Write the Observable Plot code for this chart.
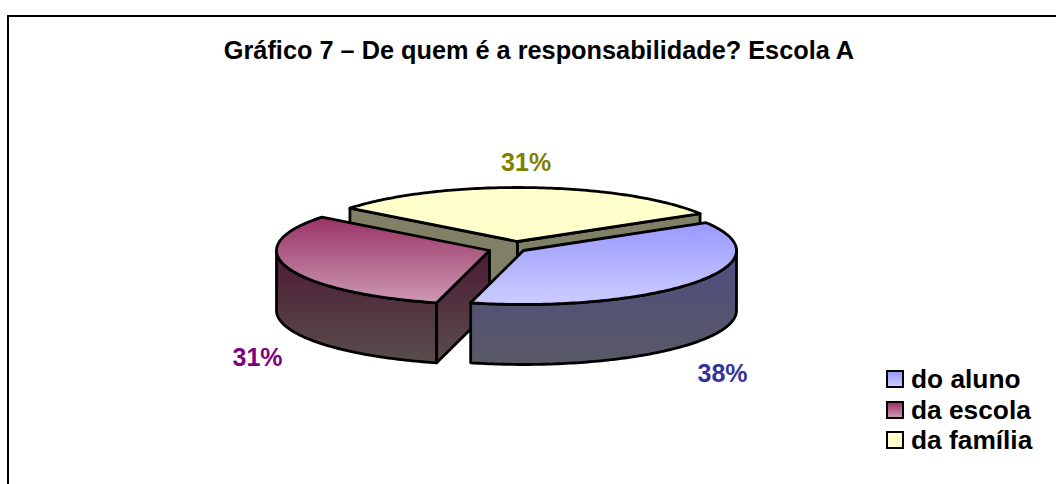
<!DOCTYPE html>
<html lang="pt">
<head>
<meta charset="utf-8">
<script src="https://cdn.jsdelivr.net/npm/d3@7"></script>
<script src="https://cdn.jsdelivr.net/npm/@observablehq/plot@0.6"></script>
<style>
  html, body { margin: 0; padding: 0; background: #fff; width: 1056px; height: 484px; overflow: hidden; }
  #chart { position: absolute; left: 0; top: 0; }
  #frame { position: absolute; left: 7px; top: 15px; width: 1060px; height: 500px; border: 2px solid #000; }
  #legend { position: absolute; left: 886px; top: 364px; font: bold 26.3px/30.5px "Liberation Sans", Arial, sans-serif; color: #000; white-space: nowrap; }
  #legend div { display: flex; align-items: center; height: 30.5px; }
  #legend i { display: block; width: 14px; height: 14px; border: 2.5px solid #000; margin-right: 7px; }
</style>
</head>
<body>
<div id="frame"></div>
<div id="chart"></div>
<div id="legend"></div>
<script>
const chartTitle = "Gráfico 7 – De quem é a responsabilidade? Escola A";
const categories = ["do aluno", "da escola", "da família"];
const shares = [37.6, 31.6, 30.8];
const percentLabels = ["38%", "31%", "31%"];

// Styles and layout, kept apart from the values above
const topStops = [["#9999ff", "#ccccff"], ["#993366", "#cc99b3"], ["#ffffcc", "#ffffcc"]];
const wallStops = [["#4d4d80", "#595966"], ["#4d1a33", "#594d4d"], ["#808066", "#808066"]];
const labelColors = ["#333399", "#800080", "#808000"];
const firstAngle = -31;
const depth = 60 / 54;
const explodeX = [0, -34 / 213, -6 / 213];
const explodeY = [0, 0, -9 / 54];
const reachX = [1.165, 1.15, 0.65];
const reachY = [1.96, 2.73, 1.46];

const rad = d => d * Math.PI / 180;
const total = d3.sum(shares);
let running = firstAngle;
const slices = categories.map((name, i) => {
  const a0 = running;
  const a1 = running + shares[i] / total * 360;
  running = a1;
  return { name, i, a0, a1, ox: explodeX[i], oy: explodeY[i] };
});

const rimPoint = (s, a, drop = 0) => ({ x: s.ox + Math.cos(rad(a)), y: s.oy + Math.sin(rad(a)) + drop });
const hub = (s, drop = 0) => ({ x: s.ox, y: s.oy + drop });
const closed = pts => [...pts, pts[0]];
const arc = (s, a0, a1, drop = 0) => {
  const n = Math.max(1, Math.ceil(Math.abs(a1 - a0)));
  return d3.range(n + 1).map(k => rimPoint(s, a0 + (a1 - a0) * k / n, drop));
};

const topFace = s => closed([hub(s), ...arc(s, s.a0, s.a1)]);
const radialWall = (s, a) => closed([hub(s), rimPoint(s, a), rimPoint(s, a, depth), hub(s, depth)]);
const outerWall = (s, a0, a1) => closed([...arc(s, a0, a1), ...arc(s, a1, a0, depth)]);

const piece = (pts, id) => Plot.line(pts, {
  x: "x", y: "y", fill: `url(#${id})`, stroke: "#000", strokeWidth: 2.8,
  strokeLinejoin: "round", curve: "linear"
});

const [blue, red, yellow] = slices;

const defsMark = () => {
  const ns = "http://www.w3.org/2000/svg";
  const defs = document.createElementNS(ns, "defs");
  const addGradient = (id, [c0, c1]) => {
    const g = document.createElementNS(ns, "linearGradient");
    g.setAttribute("id", id);
    g.setAttribute("x1", 0); g.setAttribute("y1", 0);
    g.setAttribute("x2", 0); g.setAttribute("y2", 1);
    [[0, c0], [1, c1]].forEach(([o, c]) => {
      const st = document.createElementNS(ns, "stop");
      st.setAttribute("offset", o);
      st.setAttribute("stop-color", c);
      g.appendChild(st);
    });
    defs.appendChild(g);
  };
  topStops.forEach((c, i) => addGradient(`top${i}`, c));
  wallStops.forEach((c, i) => addGradient(`wall${i}`, c));
  return defs;
};

const labelData = slices.map(s => {
  const mid = rad((s.a0 + s.a1) / 2);
  const sin = Math.sin(mid);
  return {
    text: percentLabels[s.i],
    color: labelColors[s.i],
    x: s.ox + reachX[s.i] * Math.cos(mid),
    y: s.oy + reachY[s.i] * sin + (sin > 0 ? depth : 0)
  };
});

const plot = Plot.plot({
  width: 1056,
  height: 484,
  margin: 0,
  x: { domain: [-1, 1], range: [310, 736], axis: null },
  y: { domain: [-1, 1], range: [196, 304], axis: null },
  style: { background: "transparent", fontFamily: '"Liberation Sans", Arial, sans-serif' },
  marks: [
    defsMark,
    piece(radialWall(yellow, yellow.a0), "wall2"),
    piece(radialWall(yellow, yellow.a1), "wall2"),
    piece(topFace(yellow), "top2"),
    piece(outerWall(red, red.a0, 180), "wall1"),
    piece(radialWall(red, red.a0), "wall1"),
    piece(topFace(red), "top1"),
    piece(outerWall(blue, 0, blue.a1), "wall0"),
    piece(topFace(blue), "top0"),
    Plot.text(labelData, {
      x: "x", y: "y", text: "text", fill: d => d.color,
      fontSize: 25, fontWeight: "bold", textAnchor: "middle", lineAnchor: "middle"
    }),
    Plot.text([chartTitle], {
      frameAnchor: "top-left", text: d => d, dx: 538.5, dy: 50,
      fill: "#000", fontSize: 25.3, fontWeight: "bold", textAnchor: "middle", lineAnchor: "middle"
    })
  ]
});
document.getElementById("chart").appendChild(plot);

const legend = document.getElementById("legend");
categories.forEach((name, i) => {
  const row = document.createElement("div");
  const sw = document.createElement("i");
  sw.style.background = `linear-gradient(${topStops[i][0]}, ${topStops[i][1]})`;
  row.appendChild(sw);
  row.appendChild(document.createTextNode(name));
  legend.appendChild(row);
});
</script>
</body>
</html>
